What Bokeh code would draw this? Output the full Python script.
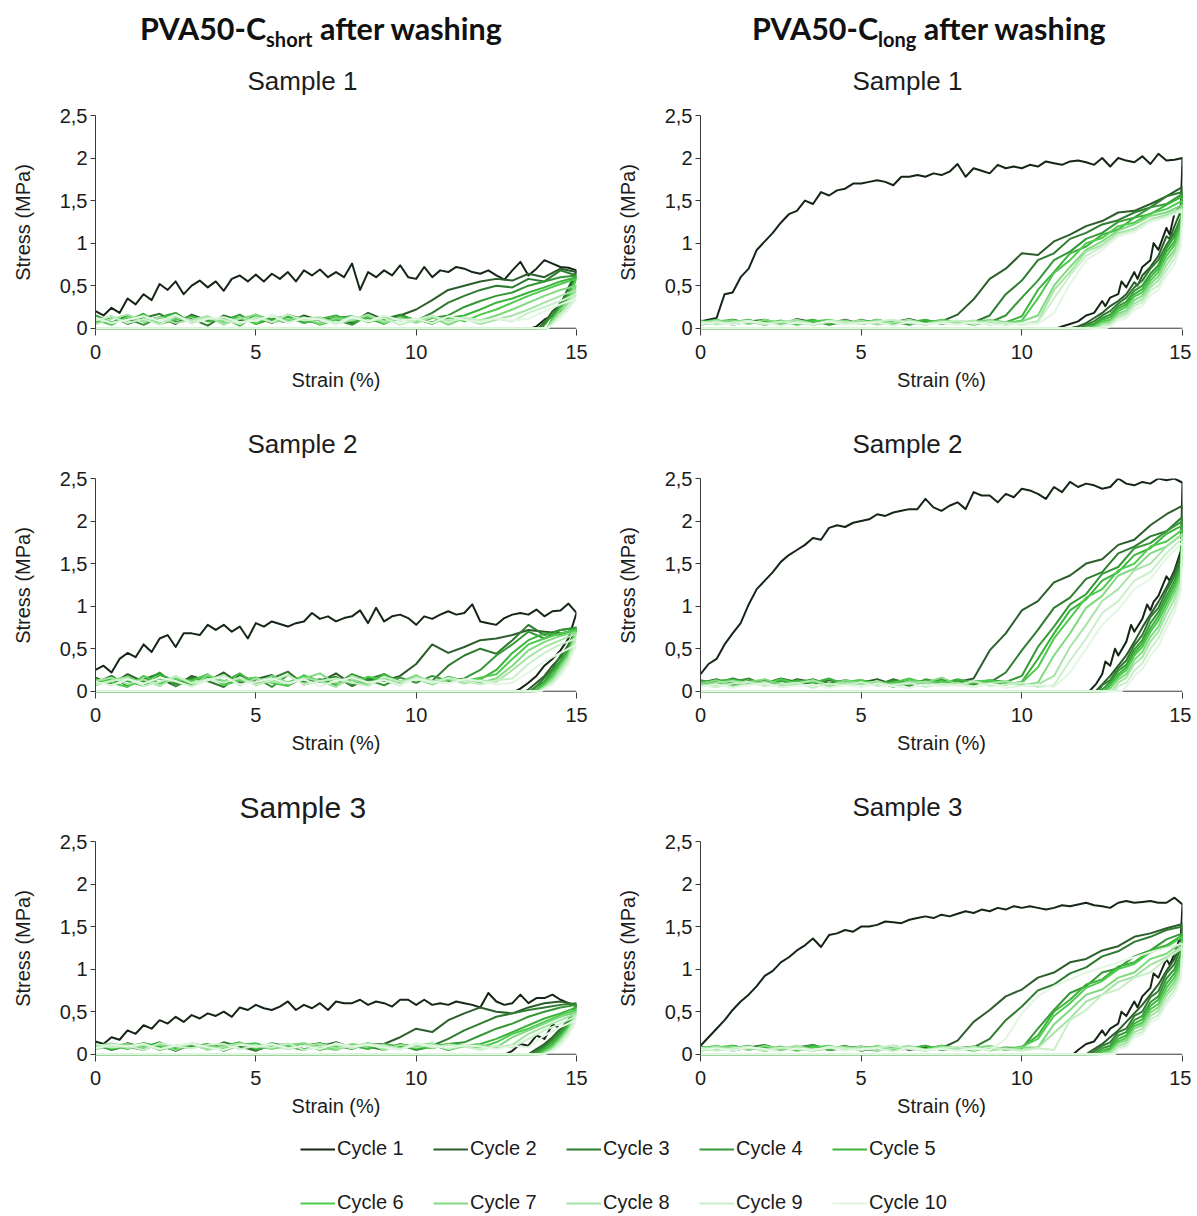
import numpy as np
from bokeh.plotting import figure
from bokeh.models import (Range1d, FixedTicker, CustomJSTickFormatter, Span,
                          Legend, LegendItem, Div)
from bokeh.layouts import column, row
from bokeh.embed import file_html
from bokeh.resources import INLINE

# ---------------- labels / categories ----------------
CYCLES = ["Cycle 1", "Cycle 2", "Cycle 3", "Cycle 4", "Cycle 5",
          "Cycle 6", "Cycle 7", "Cycle 8", "Cycle 9", "Cycle 10"]
SAMPLES = ["Sample 1", "Sample 2", "Sample 3"]
STRESS_TICKS = [0, 0.5, 1, 1.5, 2, 2.5]
STRAIN_TICKS = [0, 5, 10, 15]
COLORS = ["#162616", "#2c5e2c", "#2f7b2f", "#369836", "#3cb43c",
          "#4dcb4d", "#7fd97f", "#a6e4a6", "#c9efc9", "#e3f6e3"]

# ---------------- data: loading curves (stress in MPa, evenly spaced strain 0..15 %) ----------------
# unloading curves: [strain %, stress MPa] pairs
SHORT1_LOAD = [
    [.20,.15,.24,.18,.35,.28,.40,.33,.52,.45,.55,.40,.50,.56,.48,.55,.44,.58,.62,.55,
     .63,.55,.64,.58,.66,.55,.68,.62,.69,.60,.66,.60,.76,.45,.66,.60,.68,.62,.74,.60,
     .58,.72,.60,.68,.66,.72,.70,.66,.64,.68,.62,.57,.68,.78,.62,.70,.80,.76,.72,.71,.68],
    [.12,.06,.15,.08,.13,.05,.16,.09,.12,.04,.14,.10,.07,.15,.09,.12,.06,.18,.10,.15,.22,.33,.45,.50,.55,.58,.56,.64,.60,.70,.66],
    [.08,.14,.05,.12,.17,.07,.11,.03,.15,.09,.13,.06,.16,.10,.05,.12,.14,.08,.11,.16,.09,.18,.30,.38,.45,.50,.48,.58,.55,.68,.62],
    [.15,.07,.11,.04,.13,.18,.06,.12,.09,.16,.05,.11,.14,.07,.12,.10,.04,.15,.09,.13,.07,.12,.15,.25,.32,.38,.42,.50,.55,.60,.62],
    [.06,.13,.09,.17,.05,.10,.14,.08,.12,.03,.16,.09,.13,.06,.11,.15,.08,.12,.05,.14,.10,.07,.12,.15,.22,.30,.35,.42,.48,.55,.60],
    [.10,.04,.14,.08,.12,.16,.06,.11,.09,.13,.05,.15,.08,.12,.04,.10,.14,.07,.13,.09,.11,.05,.14,.08,.16,.22,.30,.38,.45,.52,.58],
    [.13,.07,.10,.15,.05,.12,.08,.14,.06,.11,.16,.07,.10,.13,.05,.12,.09,.15,.06,.11,.08,.13,.04,.12,.09,.15,.22,.30,.38,.45,.50],
    [.05,.11,.16,.08,.13,.06,.10,.14,.04,.12,.09,.15,.07,.11,.13,.05,.10,.16,.08,.12,.06,.14,.09,.11,.05,.10,.15,.22,.30,.38,.45],
    [.09,.14,.06,.11,.04,.15,.08,.12,.10,.05,.13,.07,.16,.09,.11,.06,.14,.08,.12,.04,.10,.15,.07,.13,.09,.11,.08,.18,.25,.32,.40],
    [.12,.06,.10,.14,.08,.16,.05,.11,.13,.07,.09,.15,.06,.12,.10,.04,.13,.08,.15,.09,.11,.06,.14,.10,.07,.12,.09,.11,.20,.28,.35],
]
SHORT1_UNLOAD = [
    [[15,.68],[14.75,.40],[14.5,.30],[14.25,.15],[14,.10],[13.75,.02],[13.6,0],[0,0]],
    [[15,.66],[14.75,.48],[14.5,.28],[14.25,.20],[14,.06],[13.8,0],[0,0]],
    [[15,.62],[14.75,.42],[14.5,.30],[14.25,.14],[14,.08],[13.85,0],[0,0]],
    [[15,.62],[14.75,.40],[14.5,.24],[14.25,.16],[14,.04],[13.9,0],[0,0]],
    [[15,.60],[14.75,.38],[14.5,.26],[14.25,.10],[14.1,0],[0,0]],
    [[15,.58],[14.75,.36],[14.5,.20],[14.25,.12],[14.1,0],[0,0]],
    [[15,.50],[14.75,.32],[14.5,.22],[14.25,.08],[14.1,0],[0,0]],
    [[15,.45],[14.75,.30],[14.5,.16],[14.25,.08],[14.1,0],[0,0]],
    [[15,.40],[14.75,.25],[14.5,.16],[14.25,.05],[14.1,0],[0,0]],
    [[15,.35],[14.75,.22],[14.5,.12],[14.25,.04],[14.1,0],[0,0]],
]

SHORT2_LOAD = [
    [.25,.30,.22,.38,.45,.40,.55,.46,.62,.66,.52,.68,.68,.66,.78,.72,.78,.70,.76,.62,
     .80,.76,.82,.79,.76,.80,.82,.92,.85,.88,.82,.86,.88,.95,.80,.98,.82,.88,.90,.86,
     .78,.88,.85,.90,.94,.90,.92,1.02,.82,.80,.78,.86,.90,.92,.90,.96,.88,.94,.95,1.03,.92],
    [.16,.08,.20,.11,.15,.06,.18,.12,.22,.09,.14,.19,.07,.16,.11,.21,.08,.15,.12,.18,.32,.55,.45,.52,.60,.62,.66,.72,.70,.68,.72],
    [.10,.18,.06,.14,.21,.09,.16,.12,.05,.19,.11,.15,.23,.08,.13,.17,.06,.14,.20,.10,.15,.12,.30,.42,.50,.44,.60,.78,.66,.72,.75],
    [.13,.07,.17,.10,.22,.06,.14,.18,.09,.12,.16,.05,.19,.11,.14,.08,.20,.13,.07,.16,.10,.18,.12,.15,.25,.42,.55,.70,.62,.72,.74],
    [.09,.15,.12,.06,.19,.13,.08,.17,.11,.21,.07,.14,.10,.18,.12,.06,.16,.09,.20,.11,.15,.08,.17,.12,.14,.25,.45,.60,.68,.66,.74],
    [.14,.10,.05,.18,.09,.15,.12,.20,.07,.13,.16,.10,.06,.19,.11,.15,.09,.17,.13,.07,.18,.10,.14,.12,.16,.20,.38,.55,.62,.68,.72],
    [.07,.13,.17,.09,.15,.11,.06,.19,.12,.14,.08,.18,.10,.15,.21,.09,.13,.07,.16,.11,.19,.08,.14,.12,.10,.15,.30,.48,.58,.65,.70],
    [.12,.16,.08,.14,.06,.17,.10,.13,.19,.07,.15,.11,.09,.16,.12,.05,.18,.10,.14,.08,.17,.12,.15,.09,.13,.11,.25,.40,.52,.60,.68],
    [.08,.12,.15,.06,.11,.18,.09,.14,.10,.16,.07,.13,.19,.08,.12,.15,.10,.06,.17,.11,.14,.09,.16,.12,.08,.13,.15,.32,.45,.55,.62],
    [.11,.07,.14,.09,.16,.12,.05,.13,.17,.08,.11,.15,.09,.14,.06,.12,.16,.10,.13,.07,.15,.11,.09,.14,.12,.08,.10,.22,.35,.45,.55],
]
SHORT2_UNLOAD = [
    [[15,.92],[14.75,.62],[14.5,.48],[14.25,.38],[14,.30],[13.75,.18],[13.5,.10],[13.25,.03],[13.1,0],[0,0]],
    [[15,.72],[14.75,.55],[14.5,.40],[14.25,.30],[14,.18],[13.75,.10],[13.5,.02],[13.4,0],[0,0]],
    [[15,.75],[14.75,.52],[14.5,.42],[14.25,.26],[14,.16],[13.75,.06],[13.55,0],[0,0]],
    [[15,.74],[14.75,.50],[14.5,.36],[14.25,.24],[14,.12],[13.75,.05],[13.6,0],[0,0]],
    [[15,.74],[14.75,.48],[14.5,.34],[14.25,.20],[14,.10],[13.7,0],[0,0]],
    [[15,.72],[14.75,.45],[14.5,.30],[14.25,.18],[14,.08],[13.75,0],[0,0]],
    [[15,.70],[14.75,.42],[14.5,.28],[14.25,.15],[14,.06],[13.8,0],[0,0]],
    [[15,.68],[14.75,.40],[14.5,.26],[14.25,.12],[14,.05],[13.8,0],[0,0]],
    [[15,.62],[14.75,.36],[14.5,.22],[14.25,.10],[14,.03],[13.85,0],[0,0]],
    [[15,.55],[14.75,.32],[14.5,.18],[14.25,.08],[13.9,0],[0,0]],
]

SHORT3_LOAD = [
    [.15,.12,.20,.17,.28,.24,.34,.30,.40,.36,.44,.38,.46,.42,.48,.45,.50,.44,.55,.52,
     .58,.54,.52,.56,.62,.52,.58,.54,.60,.52,.62,.60,.60,.64,.58,.62,.60,.56,.64,.64,
     .58,.64,.58,.60,.58,.62,.60,.58,.55,.72,.62,.58,.60,.70,.60,.66,.66,.70,.64,.60,.58],
    [.10,.06,.13,.08,.11,.04,.12,.09,.07,.13,.05,.10,.12,.06,.09,.14,.08,.11,.12,.20,.30,.26,.40,.48,.55,.50,.48,.55,.60,.62,.58],
    [.07,.12,.09,.05,.13,.08,.11,.06,.14,.09,.04,.12,.08,.10,.13,.06,.11,.09,.05,.12,.08,.10,.18,.28,.36,.44,.48,.52,.55,.58,.60],
    [.12,.05,.10,.08,.14,.06,.09,.12,.04,.11,.07,.13,.09,.05,.12,.10,.06,.13,.08,.11,.05,.09,.12,.14,.22,.30,.36,.44,.50,.55,.58],
    [.08,.11,.06,.13,.09,.05,.12,.07,.10,.14,.06,.09,.11,.05,.13,.08,.10,.06,.12,.09,.07,.11,.05,.10,.12,.18,.26,.34,.42,.48,.55],
    [.11,.07,.09,.13,.05,.10,.12,.08,.06,.11,.13,.07,.09,.12,.05,.10,.08,.13,.06,.11,.09,.07,.12,.10,.08,.14,.24,.30,.38,.46,.52],
    [.06,.10,.12,.08,.11,.05,.13,.09,.07,.12,.10,.06,.11,.13,.08,.05,.12,.09,.11,.07,.10,.13,.06,.09,.11,.08,.20,.28,.36,.44,.50],
    [.09,.13,.07,.11,.06,.10,.12,.05,.09,.13,.08,.11,.06,.10,.12,.07,.09,.13,.05,.11,.08,.12,.06,.10,.09,.07,.11,.24,.32,.40,.48],
    [.12,.08,.10,.05,.13,.09,.07,.11,.12,.06,.10,.08,.13,.05,.09,.11,.07,.12,.10,.06,.13,.08,.11,.09,.05,.10,.08,.18,.28,.36,.45],
    [.07,.11,.09,.12,.06,.10,.13,.08,.05,.11,.09,.12,.07,.10,.06,.13,.09,.11,.08,.05,.12,.10,.07,.11,.09,.06,.10,.08,.22,.32,.40],
]
SHORT3_UNLOAD = [
    [[15,.58],[14.9,.45],[14.75,.38],[14.5,.30],[14.25,.35],[14,.18],[13.75,.22],[13.5,.10],[13.25,.12],[13,.04],[12.8,0],[0,0]],
    [[15,.58],[14.75,.40],[14.5,.30],[14.25,.20],[14,.12],[13.75,.06],[13.5,0],[0,0]],
    [[15,.60],[14.75,.38],[14.5,.28],[14.25,.18],[14,.10],[13.75,.04],[13.6,0],[0,0]],
    [[15,.58],[14.75,.36],[14.5,.25],[14.25,.15],[14,.08],[13.7,0],[0,0]],
    [[15,.55],[14.75,.34],[14.5,.22],[14.25,.12],[14,.06],[13.8,0],[0,0]],
    [[15,.52],[14.75,.32],[14.5,.20],[14.25,.10],[14,.04],[13.85,0],[0,0]],
    [[15,.50],[14.75,.30],[14.5,.18],[14.25,.08],[13.9,0],[0,0]],
    [[15,.48],[14.75,.28],[14.5,.16],[14.25,.06],[13.95,0],[0,0]],
    [[15,.45],[14.75,.26],[14.5,.14],[14.25,.05],[14,0],[0,0]],
    [[15,.40],[14.75,.22],[14.5,.10],[14.25,.04],[14,0],[0,0]],
]

LONG1_LOAD = [
    [.08,.10,.12,.40,.42,.60,.70,.92,1.02,1.12,1.24,1.34,1.38,1.50,1.46,1.60,1.56,1.62,1.64,1.70,
     1.70,1.72,1.74,1.72,1.68,1.78,1.78,1.80,1.78,1.82,1.80,1.84,1.93,1.78,1.88,1.85,1.82,1.92,1.88,1.90,
     1.88,1.92,1.90,1.96,1.94,1.92,1.96,1.97,1.95,1.92,2.00,1.90,2.00,1.97,1.95,2.02,1.93,2.05,1.97,1.98,2.00],
    [.08,.05,.10,.06,.09,.04,.11,.07,.06,.10,.05,.08,.07,.11,.06,.08,.16,.34,.58,.70,.88,.86,1.02,1.10,1.20,1.26,1.36,1.38,1.46,1.55,1.66],
    [.06,.09,.04,.08,.10,.05,.07,.09,.04,.08,.06,.10,.05,.07,.09,.06,.08,.07,.15,.40,.56,.80,.88,1.05,1.12,1.22,1.27,1.36,1.42,1.55,1.60],
    [.09,.05,.07,.10,.04,.08,.06,.09,.07,.05,.10,.06,.08,.04,.09,.07,.06,.08,.07,.15,.36,.56,.80,.90,1.05,1.12,1.25,1.30,1.42,1.46,1.58],
    [.05,.08,.10,.06,.09,.04,.07,.10,.05,.08,.06,.09,.04,.07,.10,.05,.08,.06,.09,.07,.14,.45,.66,.88,.96,1.10,1.16,1.30,1.34,1.45,1.55],
    [.07,.10,.05,.08,.06,.09,.04,.08,.10,.06,.07,.09,.05,.08,.06,.10,.07,.04,.08,.06,.09,.35,.65,.80,1.00,1.06,1.20,1.24,1.35,1.40,1.50],
    [.04,.07,.09,.05,.10,.06,.08,.04,.07,.09,.05,.10,.06,.08,.04,.09,.06,.07,.10,.05,.08,.15,.50,.72,.92,1.02,1.15,1.22,1.32,1.36,1.45],
    [.06,.09,.05,.08,.04,.07,.10,.05,.08,.06,.09,.04,.07,.10,.05,.08,.06,.09,.04,.07,.05,.08,.45,.66,.90,.98,1.12,1.17,1.28,1.33,1.42],
    [.08,.04,.07,.09,.05,.08,.06,.04,.09,.07,.05,.08,.10,.06,.04,.07,.09,.05,.08,.06,.04,.07,.35,.62,.85,.96,1.10,1.15,1.27,1.31,1.40],
    [.05,.07,.04,.08,.06,.03,.07,.05,.08,.04,.06,.07,.03,.08,.05,.06,.04,.07,.05,.03,.06,.05,.18,.52,.80,.92,1.08,1.13,1.25,1.30,1.38],
]
LONG1_UNLOAD = [
    [[15,2.0],[14.95,1.45],[14.75,1.35],[14.6,1.10],[14.5,1.18],[14.25,.92],[14.1,1.0],[14,.80],[13.75,.72],[13.6,.58],[13.5,.66],
     [13.25,.48],[13.1,.55],[13,.40],[12.75,.36],[12.6,.26],[12.5,.32],[12.25,.18],[12,.15],[11.75,.08],[11.5,.05],[11.25,.02],[11.1,0],[0,0]],
    [[15,1.66],[14.95,1.38],[14.75,1.20],[14.6,1.05],[14.5,1.08],[14.25,.85],[14,.72],[13.75,.62],[13.6,.50],[13.5,.54],[13.25,.40],
     [13,.32],[12.75,.26],[12.5,.18],[12.25,.12],[12,.06],[11.75,.02],[11.5,0],[0,0]],
    [[15,1.60],[14.95,1.30],[14.75,1.12],[14.5,.98],[14.25,.80],[14,.70],[13.75,.56],[13.5,.48],[13.25,.36],[13,.29],[12.75,.20],[12.5,.15],[12.25,.08],[12,.04],[11.8,0],[0,0]],
    [[15,1.58],[14.95,1.28],[14.75,1.08],[14.5,.94],[14.25,.74],[14,.64],[13.75,.50],[13.5,.44],[13.25,.31],[13,.26],[12.75,.16],[12.5,.12],[12.25,.05],[12,.03],[11.9,0],[0,0]],
    [[15,1.55],[14.95,1.25],[14.75,1.02],[14.5,.90],[14.25,.70],[14,.60],[13.75,.46],[13.5,.40],[13.25,.28],[13,.23],[12.75,.13],[12.5,.10],[12.25,.03],[12,0],[0,0]],
    [[15,1.50],[14.95,1.20],[14.75,.98],[14.5,.85],[14.25,.66],[14,.56],[13.75,.42],[13.5,.37],[13.25,.25],[13,.20],[12.75,.10],[12.5,.08],[12.25,.02],[12.1,0],[0,0]],
    [[15,1.45],[14.95,1.15],[14.75,.92],[14.5,.80],[14.25,.61],[14,.52],[13.75,.38],[13.5,.33],[13.25,.21],[13,.17],[12.75,.08],[12.5,.06],[12.2,0],[0,0]],
    [[15,1.42],[14.95,1.10],[14.75,.88],[14.5,.74],[14.25,.56],[14,.48],[13.75,.34],[13.5,.29],[13.25,.18],[13,.14],[12.75,.06],[12.5,.04],[12.3,0],[0,0]],
    [[15,1.40],[14.95,1.02],[14.75,.82],[14.5,.68],[14.25,.50],[14,.44],[13.75,.30],[13.5,.26],[13.25,.15],[13,.12],[12.75,.04],[12.5,.03],[12.4,0],[0,0]],
    [[15,1.38],[14.95,.95],[14.75,.75],[14.5,.62],[14.25,.45],[14,.39],[13.75,.26],[13.5,.22],[13.25,.12],[13,.09],[12.75,.02],[12.6,0],[0,0]],
]

LONG2_LOAD = [
    [.20,.32,.38,.55,.68,.80,1.02,1.20,1.30,1.40,1.52,1.60,1.66,1.72,1.80,1.78,1.92,1.95,1.93,1.98,
     2.00,2.02,2.08,2.06,2.10,2.12,2.14,2.14,2.26,2.16,2.12,2.18,2.22,2.14,2.34,2.30,2.30,2.22,2.32,2.28,
     2.38,2.36,2.32,2.26,2.40,2.34,2.46,2.40,2.44,2.42,2.38,2.40,2.50,2.44,2.42,2.46,2.44,2.50,2.48,2.50,2.45],
    [.12,.08,.15,.10,.13,.07,.14,.11,.09,.13,.10,.14,.08,.12,.10,.13,.11,.15,.48,.68,.95,1.06,1.28,1.36,1.50,1.55,1.72,1.78,1.95,2.08,2.18],
    [.10,.14,.07,.12,.09,.15,.11,.08,.13,.10,.12,.07,.14,.09,.11,.13,.08,.12,.10,.22,.48,.72,.98,1.10,1.32,1.40,1.62,1.70,1.82,1.88,2.05],
    [.13,.09,.11,.15,.07,.12,.10,.14,.08,.11,.13,.09,.12,.06,.14,.10,.12,.08,.13,.11,.18,.52,.76,1.02,1.14,1.38,1.46,1.68,1.74,1.88,2.00],
    [.08,.12,.14,.09,.11,.07,.13,.10,.15,.08,.12,.10,.06,.13,.11,.09,.14,.10,.12,.08,.11,.38,.68,.95,1.08,1.30,1.40,1.60,1.68,1.85,1.95],
    [.11,.07,.13,.10,.08,.14,.09,.12,.06,.11,.13,.08,.10,.15,.09,.12,.07,.11,.13,.09,.10,.28,.62,.86,1.10,1.20,1.42,1.50,1.70,1.76,1.90],
    [.09,.13,.06,.11,.14,.08,.10,.12,.07,.13,.09,.11,.05,.12,.10,.16,.08,.11,.09,.12,.07,.10,.42,.68,.98,1.12,1.36,1.44,1.62,1.70,1.85],
    [.06,.10,.12,.08,.11,.05,.09,.13,.07,.10,.08,.12,.06,.09,.11,.07,.10,.05,.09,.12,.06,.08,.18,.52,.78,1.06,1.20,1.42,1.50,1.70,1.84],
    [.07,.05,.09,.11,.06,.08,.10,.04,.09,.07,.11,.06,.08,.10,.05,.09,.07,.12,.06,.08,.10,.05,.07,.36,.62,.92,1.06,1.30,1.40,1.62,1.80],
    [.05,.08,.04,.07,.09,.05,.06,.08,.04,.07,.05,.09,.06,.04,.08,.06,.07,.05,.09,.04,.06,.08,.05,.22,.50,.78,.96,1.20,1.32,1.56,1.75],
]
LONG2_UNLOAD = [
    [[15,2.45],[14.95,1.65],[14.75,1.42],[14.6,1.30],[14.5,1.35],[14.25,1.12],[14.1,1.05],[14,.95],[13.9,1.02],[13.75,.85],[13.5,.70],
     [13.4,.78],[13.25,.58],[13,.42],[12.9,.50],[12.75,.30],[12.6,.35],[12.5,.20],[12.3,.08],[12.1,0],[0,0]],
    [[15,2.18],[14.95,1.60],[14.75,1.40],[14.5,1.22],[14.25,1.05],[14,.90],[13.75,.75],[13.5,.58],[13.25,.42],[13,.30],[12.75,.18],[12.5,.08],[12.3,0],[0,0]],
    [[15,2.05],[14.95,1.55],[14.75,1.35],[14.5,1.18],[14.25,.98],[14,.87],[13.75,.66],[13.5,.54],[13.25,.36],[13,.27],[12.75,.13],[12.5,.07],[12.4,0],[0,0]],
    [[15,2.00],[14.95,1.50],[14.75,1.30],[14.5,1.12],[14.25,.93],[14,.80],[13.75,.60],[13.5,.49],[13.25,.31],[13,.24],[12.75,.11],[12.45,0],[0,0]],
    [[15,1.95],[14.95,1.45],[14.75,1.25],[14.5,1.07],[14.25,.88],[14,.74],[13.75,.56],[13.5,.45],[13.25,.28],[13,.20],[12.75,.08],[12.55,0],[0,0]],
    [[15,1.90],[14.95,1.40],[14.75,1.20],[14.5,1.02],[14.25,.83],[14,.70],[13.75,.52],[13.5,.42],[13.25,.25],[13,.17],[12.75,.06],[12.6,0],[0,0]],
    [[15,1.85],[14.95,1.35],[14.75,1.15],[14.5,.97],[14.25,.76],[14,.64],[13.75,.46],[13.5,.37],[13.25,.20],[13,.14],[12.75,.03],[12.7,0],[0,0]],
    [[15,1.84],[14.95,1.30],[14.75,1.08],[14.5,.90],[14.25,.70],[14,.58],[13.75,.40],[13.5,.32],[13.25,.16],[13,.10],[12.8,0],[0,0]],
    [[15,1.80],[14.95,1.25],[14.75,1.00],[14.5,.82],[14.25,.62],[14,.50],[13.75,.33],[13.5,.24],[13.25,.10],[13,.06],[12.9,0],[0,0]],
    [[15,1.75],[14.95,1.18],[14.75,.92],[14.5,.74],[14.25,.53],[14,.42],[13.75,.26],[13.5,.18],[13.25,.05],[13.1,0],[0,0]],
]

LONG3_LOAD = [
    [.10,.20,.30,.40,.52,.62,.70,.80,.92,.98,1.08,1.14,1.22,1.28,1.36,1.26,1.40,1.42,1.46,1.44,
     1.50,1.50,1.52,1.56,1.55,1.54,1.58,1.60,1.62,1.60,1.64,1.62,1.65,1.68,1.66,1.70,1.68,1.72,1.70,1.74,
     1.72,1.74,1.72,1.70,1.72,1.75,1.74,1.76,1.78,1.75,1.74,1.72,1.78,1.80,1.78,1.79,1.80,1.78,1.78,1.84,1.76],
    [.08,.05,.10,.06,.09,.04,.08,.11,.05,.07,.09,.06,.10,.05,.08,.07,.16,.38,.52,.68,.76,.90,.96,1.08,1.12,1.22,1.27,1.38,1.42,1.48,1.53],
    [.06,.09,.04,.08,.11,.05,.07,.09,.06,.10,.04,.08,.06,.09,.05,.10,.07,.08,.18,.40,.56,.75,.82,.95,1.02,1.15,1.21,1.32,1.38,1.46,1.50],
    [.09,.05,.07,.10,.04,.08,.06,.11,.05,.08,.07,.04,.09,.06,.10,.05,.07,.09,.06,.08,.07,.30,.52,.72,.80,.96,1.01,1.15,1.22,1.35,1.42],
    [.05,.08,.10,.06,.09,.04,.07,.10,.05,.08,.06,.09,.04,.07,.10,.05,.08,.06,.09,.05,.08,.22,.50,.64,.82,.88,1.03,1.08,1.22,1.28,1.40],
    [.07,.10,.05,.08,.06,.09,.04,.08,.10,.06,.07,.09,.05,.08,.06,.10,.07,.04,.08,.06,.09,.18,.45,.60,.78,.86,1.00,1.06,1.20,1.26,1.38],
    [.04,.07,.09,.05,.10,.06,.08,.04,.07,.09,.05,.10,.06,.08,.04,.09,.06,.07,.10,.05,.08,.08,.35,.52,.70,.76,.90,.96,1.12,1.18,1.32],
    [.06,.09,.05,.08,.04,.07,.10,.05,.08,.06,.09,.04,.07,.10,.05,.08,.06,.09,.04,.07,.05,.08,.25,.42,.62,.70,.85,.91,1.05,1.14,1.28],
    [.08,.04,.07,.09,.05,.08,.06,.04,.09,.07,.05,.08,.10,.06,.04,.07,.09,.05,.08,.06,.04,.07,.05,.40,.52,.70,.76,.90,.96,1.12,1.25],
    [.05,.07,.04,.08,.06,.03,.07,.05,.08,.04,.06,.07,.03,.08,.05,.06,.04,.07,.05,.18,.48,.68,.80,.88,.96,1.02,1.08,1.14,1.20,1.25,1.30],
]
LONG3_UNLOAD = [
    [[15,1.76],[14.95,1.40],[14.75,1.18],[14.6,1.05],[14.5,1.12],[14.25,.90],[14.1,.95],[14,.78],[13.75,.68],[13.6,.55],[13.5,.62],
     [13.25,.45],[13.1,.50],[13,.36],[12.75,.30],[12.6,.22],[12.5,.28],[12.25,.15],[12,.12],[11.75,.05],[11.6,0],[0,0]],
    [[15,1.53],[14.95,1.30],[14.75,1.12],[14.5,.98],[14.25,.82],[14,.70],[13.75,.58],[13.5,.48],[13.25,.38],[13,.28],[12.75,.20],[12.5,.12],[12.25,.06],[12,0],[0,0]],
    [[15,1.50],[14.95,1.25],[14.75,1.06],[14.5,.95],[14.25,.74],[14,.67],[13.75,.50],[13.5,.45],[13.25,.30],[13,.26],[12.75,.14],[12.5,.10],[12.25,.03],[12.1,0],[0,0]],
    [[15,1.42],[14.95,1.18],[14.75,1.00],[14.5,.89],[14.25,.68],[14,.61],[13.75,.45],[13.5,.40],[13.25,.26],[13,.22],[12.75,.10],[12.5,.07],[12.25,0],[0,0]],
    [[15,1.40],[14.95,1.12],[14.75,.95],[14.5,.83],[14.25,.64],[14,.57],[13.75,.41],[13.5,.36],[13.25,.22],[13,.18],[12.75,.07],[12.5,.04],[12.35,0],[0,0]],
    [[15,1.38],[14.95,1.08],[14.75,.90],[14.5,.78],[14.25,.59],[14,.53],[13.75,.37],[13.5,.33],[13.25,.19],[13,.15],[12.75,.05],[12.5,.03],[12.4,0],[0,0]],
    [[15,1.32],[14.95,1.02],[14.75,.85],[14.5,.73],[14.25,.55],[14,.49],[13.75,.34],[13.5,.30],[13.25,.16],[13,.13],[12.75,.03],[12.5,0],[0,0]],
    [[15,1.28],[14.95,.98],[14.75,.80],[14.5,.69],[14.25,.51],[14,.45],[13.75,.30],[13.5,.26],[13.25,.13],[13,.10],[12.75,.02],[12.6,0],[0,0]],
    [[15,1.25],[14.95,.92],[14.75,.75],[14.5,.63],[14.25,.46],[14,.41],[13.75,.26],[13.5,.23],[13.25,.10],[13,.08],[12.8,0],[0,0]],
    [[15,1.30],[14.95,.88],[14.75,.70],[14.5,.59],[14.25,.42],[14,.37],[13.75,.23],[13.5,.20],[13.25,.08],[13,.06],[12.9,0],[0,0]],
]

# ---------------- styling ----------------
FONT = "Liberation Sans"
AXIS_COLOR = "#3a3a3a"
TEXT_COLOR = "#1c1c1c"
TOP_BORDER = 72


def make_panel(load, unload, title, width, left_border, right_border, height,
               bottom_border, title_size, title_offset, title_standoff):
    p = figure(width=width, height=height,
               x_range=Range1d(0, 15), y_range=Range1d(-0.015, 2.5),
               output_backend="svg", toolbar_location=None,
               min_border_left=left_border, min_border_right=right_border,
               min_border_top=TOP_BORDER, min_border_bottom=bottom_border,
               title=title)
    p.title.text_font = FONT
    p.title.text_font_size = title_size
    p.title.text_font_style = "normal"
    p.title.text_color = TEXT_COLOR
    p.title.align = "left"
    p.title.offset = title_offset
    p.title.standoff = title_standoff

    p.grid.visible = False
    p.outline_line_color = None
    p.background_fill_color = "white"
    p.border_fill_color = "white"

    # y axis
    p.yaxis.ticker = FixedTicker(ticks=STRESS_TICKS)
    p.yaxis.formatter = CustomJSTickFormatter(code="return tick.toString().replace('.', ',');")
    p.yaxis.axis_label = "Stress (MPa)"
    p.yaxis.axis_line_color = AXIS_COLOR
    p.yaxis.major_tick_line_color = AXIS_COLOR
    p.yaxis.major_tick_in = 0
    p.yaxis.major_tick_out = 5
    p.yaxis.minor_tick_line_color = None
    p.yaxis.major_label_standoff = 3
    p.yaxis.axis_label_standoff = 23

    # x axis
    p.xaxis.ticker = FixedTicker(ticks=STRAIN_TICKS)
    p.xaxis.axis_label = "Strain (%)"
    p.xaxis.axis_line_color = None
    p.xaxis.major_tick_line_color = AXIS_COLOR
    p.xaxis.major_tick_in = 0
    p.xaxis.major_tick_out = 6
    p.xaxis.minor_tick_line_color = None
    p.xaxis.major_label_standoff = 9
    p.xaxis.axis_label_standoff = 7

    for ax in (p.xaxis[0], p.yaxis[0]):
        ax.major_label_text_font = FONT
        ax.major_label_text_font_size = "20px"
        ax.major_label_text_color = TEXT_COLOR
        ax.axis_label_text_font = FONT
        ax.axis_label_text_font_size = "20px"
        ax.axis_label_text_font_style = "normal"
        ax.axis_label_text_color = TEXT_COLOR

    # horizontal axis line at zero stress, drawn beneath the series
    p.add_layout(Span(location=0, dimension="width", line_color=AXIS_COLOR,
                      line_width=1, level="underlay"))

    for i in range(len(CYCLES)):
        ys = list(load[i])
        xs = list(np.linspace(0, 15, len(ys)))
        xs += [pt[0] for pt in unload[i]]
        ys += [pt[1] for pt in unload[i]]
        p.line(xs, ys, line_color=COLORS[i], line_width=2, line_join="round")
    return p


LEFT_W, RIGHT_W = 613, 578
HEADER_H = 43
ROW_H, LAST_H = 363, 354
LEGEND_H = 91

panels = [
    (SHORT1_LOAD, SHORT1_UNLOAD, LONG1_LOAD, LONG1_UNLOAD, SAMPLES[0], ROW_H, 77, "26px", 152, 39),
    (SHORT2_LOAD, SHORT2_UNLOAD, LONG2_LOAD, LONG2_UNLOAD, SAMPLES[1], ROW_H, 77, "26px", 152, 39),
    (SHORT3_LOAD, SHORT3_UNLOAD, LONG3_LOAD, LONG3_UNLOAD, SAMPLES[2], LAST_H, 68, "30px", 144, 36),
]

rows = []
for idx, (sl, su, ll, lu, title, h, bb, tsl, offl, stl) in enumerate(panels):
    left = make_panel(sl, su, title, LEFT_W, 95, 37, h, bb, tsl, offl, stl)
    right = make_panel(ll, lu, title, RIGHT_W, 87, 9, h, bb, "26px", 152, 39)
    rows.append(row(left, right, spacing=0))

# ---------------- header ----------------
sub = 'font-size:20px;position:relative;top:7px;'
header_html = (
    f'<div style="position:relative;width:{LEFT_W + RIGHT_W}px;height:{HEADER_H}px;overflow:visible;'
    'font-family:Lato, \'Open Sans\', sans-serif;'
    'font-weight:bold;font-size:30.5px;color:#111;line-height:1;">'
    '<span style="position:absolute;left:140px;top:13px;white-space:nowrap;">PVA50-C'
    f'<span style="{sub}">short</span> after washing</span>'
    '<span style="position:absolute;left:752px;top:13px;white-space:nowrap;">PVA50-C'
    f'<span style="{sub}">long</span> after washing</span>'
    '</div>'
)
header = Div(text=header_html, width=LEFT_W + RIGHT_W, height=HEADER_H, margin=0,
             styles={"overflow": "visible", "z-index": "2"})

# ---------------- legend ----------------
lg = figure(width=LEFT_W + RIGHT_W, height=LEGEND_H, output_backend="svg",
            toolbar_location=None, x_range=Range1d(0, 1), y_range=Range1d(0, 1),
            x_axis_location=None, y_axis_location=None, min_border=0)
lg.grid.visible = False
lg.outline_line_color = None
items = []
for i, name in enumerate(CYCLES):
    r = lg.line([np.nan, np.nan], [np.nan, np.nan], line_color=COLORS[i], line_width=2)
    items.append(LegendItem(label=name, renderers=[r]))

for k, yloc in ((0, 54), (1, 0)):
    leg = Legend(items=items[5 * k:5 * k + 5], orientation="horizontal",
                 location=(300, yloc), glyph_width=35, glyph_height=20,
                 label_height=20, label_width=88, label_standoff=2, spacing=8,
                 padding=0, margin=0, border_line_color=None,
                 background_fill_alpha=0, label_text_font=FONT,
                 label_text_font_size="20px", label_text_color=TEXT_COLOR)
    lg.add_layout(leg)

layout = column(header, *rows, lg, spacing=0)
open("out.html", "w").write(file_html(layout, INLINE, title="PVA50 cyclic tests"))
